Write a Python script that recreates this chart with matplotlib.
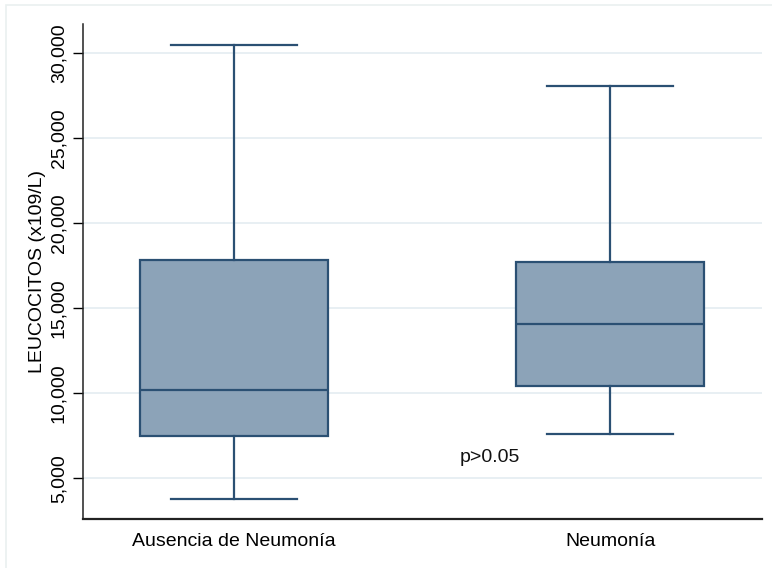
import matplotlib
matplotlib.use("Agg")
import matplotlib.pyplot as plt
from matplotlib.patches import Rectangle
from matplotlib.ticker import FuncFormatter

plt.rcParams['font.family'] = ['Liberation Sans', 'DejaVu Sans']

# Group labels and five-number summaries (x10^9/L)
categories = ["Ausencia de Neumonía", "Neumonía"]
whisker_low = [3800, 7600]
q1 = [7500, 10450]
median = [10200, 14100]
q3 = [17850, 17750]
whisker_high = [30500, 28100]

y_ticks = [5000, 10000, 15000, 20000, 25000, 30000]
y_label = "LEUCOCITOS (x109/L)"
p_text = "p>0.05"

fill_color = "#8ca3b8"
edge_color = "#2b5073"

fig = plt.figure(figsize=(7.72, 5.68), dpi=100)
fig.patch.set_facecolor("white")

# light outer frame around the plot region
fig.patches.append(Rectangle((6 / 772, -0.1), 1.2, 1 - 5.5 / 568 + 0.1,
                             transform=fig.transFigure, facecolor="none",
                             edgecolor="#eaf0f0", linewidth=1.2, zorder=0))

ax = fig.add_axes([82.7 / 772, 1 - 518.7 / 568, (761.7 - 82.7) / 772, (518.7 - 24) / 568])

stats = []
for i, name in enumerate(categories):
    stats.append(dict(label=name, whislo=whisker_low[i], q1=q1[i], med=median[i],
                      q3=q3[i], whishi=whisker_high[i], fliers=[]))

positions = list(range(1, len(categories) + 1))
ax.bxp(stats, positions=positions, widths=0.5, capwidths=0.335, patch_artist=True,
       showfliers=False,
       boxprops=dict(facecolor=fill_color, edgecolor=edge_color, linewidth=1.6),
       medianprops=dict(color=edge_color, linewidth=1.6),
       whiskerprops=dict(color=edge_color, linewidth=1.6),
       capprops=dict(color=edge_color, linewidth=1.6),
       zorder=3)

ax.set_xlim(0.597, 2.403)
ax.set_ylim(2624, 31724)
ax.set_yticks(y_ticks)
ax.yaxis.set_major_formatter(FuncFormatter(lambda v, _: f"{int(v):,}"))
ax.set_xticks(positions)
ax.set_xticklabels(categories, fontsize=14)
ax.tick_params(axis="x", length=0, pad=10)
ax.tick_params(axis="y", length=7, width=1, pad=4, labelsize=14, labelrotation=90)
for lbl in ax.get_yticklabels():
    lbl.set_va("center")

ax.grid(axis="y", color="#e6eef2", linewidth=1.3, zorder=0)
ax.set_axisbelow(True)

for side in ("top", "right"):
    ax.spines[side].set_visible(False)
ax.spines["left"].set_color("#222222")
ax.spines["bottom"].set_color("#222222")
ax.spines["left"].set_linewidth(1.1)
ax.spines["bottom"].set_linewidth(1.6)

ax.set_ylabel(y_label, fontsize=14, labelpad=3)

ax.text(1.600, 6200, p_text, fontsize=14, ha="left", va="center", color="#111111")

fig.savefig("out.png", dpi=100)
